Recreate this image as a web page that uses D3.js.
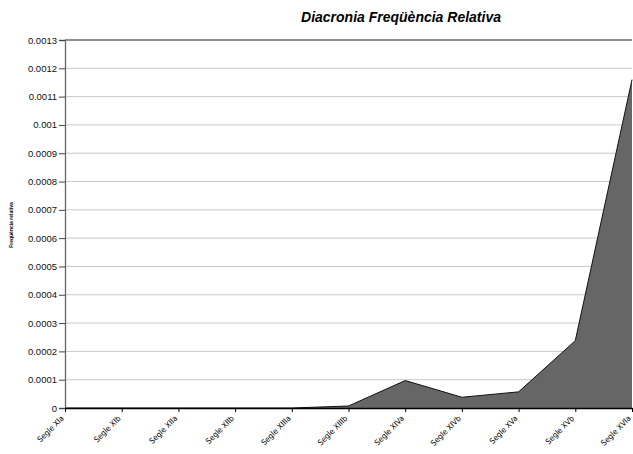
<!DOCTYPE html>
<html>
<head>
<meta charset="utf-8">
<script src="https://cdn.jsdelivr.net/npm/d3@7"></script>
<style>
  body { margin: 0; background: #fff; }
  svg { display: block; }
  .tick text { font-family: "Liberation Sans", Arial, sans-serif; fill: #000; }
</style>
</head>
<body>
<div id="graph"></div>
<script>
// Dades del grafic
var periodes = ["Segle XIa", "Segle XIb", "Segle XIIa", "Segle XIIb", "Segle XIIIa",
  "Segle XIIIb", "Segle XIVa", "Segle XIVb", "Segle XVa", "Segle XVb", "Segle XVIa"];
var freq = [0, 0, 0, 0, 0, 0.000007, 0.000097, 0.000038, 0.000057, 0.000238, 0.00116];
var yTicks = [0, 0.0001, 0.0002, 0.0003, 0.0004, 0.0005, 0.0006, 0.0007, 0.0008,
  0.0009, 0.001, 0.0011, 0.0012, 0.0013];

var width = 633, height = 454;
var plotLeft = 65, plotRight = 632, plotTop = 40, plotBottom = 408;

var svg = d3.select("#graph").append("svg")
  .attr("width", width)
  .attr("height", height)

var xScale = d3.scalePoint()
  .domain(periodes)
  .range([plotLeft, plotRight]);

var yScale = d3.scaleLinear()
  .domain([0, 0.0013])
  .range([plotBottom, plotTop]);

// Linies de graella
svg.append("g")
  .selectAll("line")
  .data(yTicks.slice(1, -1))
  .join("line")
  .attr("x1", plotLeft).attr("x2", plotRight)
  .attr("y1", d => yScale(d)).attr("y2", d => yScale(d))
  .attr("stroke", "#c8c8c8")
  .attr("stroke-width", 1)

// Vora superior
svg.append("line")
  .attr("x1", plotLeft).attr("x2", plotRight)
  .attr("y1", yScale(0.0013)).attr("y2", yScale(0.0013))
  .attr("stroke", "#6e6e6e")
  .attr("stroke-width", 1.3)

// Area
var data = periodes.map((p, i) => ({p: p, v: freq[i]}));
var area = d3.area()
  .x(d => xScale(d.p))
  .y0(yScale(0))
  .y1(d => yScale(d.v));
var line = d3.line()
  .x(d => xScale(d.p))
  .y(d => yScale(d.v));

svg.append("path")
  .datum(data)
  .attr("d", area)
  .attr("fill", "#666666")

svg.append("path")
  .datum(data)
  .attr("d", line)
  .attr("fill", "none")
  .attr("stroke", "#111")
  .attr("stroke-width", 1)

// Eix Y
var yAxis = svg.append("g")
  .attr("transform", "translate(" + plotLeft + ",0)")
  .call(d3.axisLeft(yScale).tickValues(yTicks).tickSize(6).tickPadding(2)
    .tickFormat(d => d === 0 ? "0" : d3.format("")(+d.toFixed(4))))
yAxis.select(".domain").attr("stroke", "#666").attr("stroke-width", 1.3)
yAxis.selectAll(".tick line").attr("stroke", "#444")
yAxis.selectAll(".tick text").style("font-size", "9.5px").style("fill", "#111")

// Eix X
var xAxis = svg.append("g")
  .attr("transform", "translate(0," + plotBottom + ")")
  .call(d3.axisBottom(xScale).tickSize(4).tickSizeOuter(0))
xAxis.select(".domain").attr("stroke", "#000").attr("stroke-width", 1.3)
xAxis.selectAll(".tick line").attr("stroke", "#000")
xAxis.selectAll(".tick text")
  .style("font-size", "8px")
  .style("font-family", "'Liberation Sans Narrow', 'DejaVu Sans Condensed', sans-serif")
  .attr("text-anchor", "end")
  .attr("x", 0)
  .attr("y", 0)
  .attr("dy", "0.35em")
  .attr("transform", "translate(-3,9) rotate(-45)")

// Titol
svg.append("text")
  .attr("x", 401)
  .attr("y", 22)
  .attr("text-anchor", "middle")
  .style("font-family", "'Liberation Sans', Arial, sans-serif")
  .style("font-size", "14px")
  .style("font-weight", "bold")
  .style("font-style", "italic")
  .text("Diacronia Freqüència Relativa")

// Titol eix Y (molt petit)
svg.append("text")
  .attr("transform", "translate(13,225) rotate(-90)")
  .attr("text-anchor", "middle")
  .style("font-family", "'Liberation Sans', Arial, sans-serif")
  .style("font-size", "5px")
  .style("font-weight", "bold")
  .text("Freqüència relativa")
</script>
</body>
</html>
